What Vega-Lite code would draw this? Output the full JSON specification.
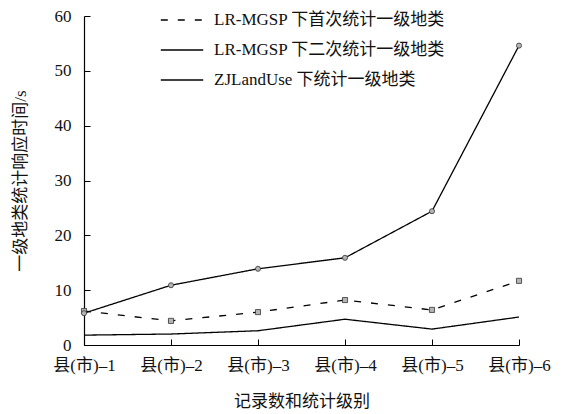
{
  "$schema": "https://vega.github.io/schema/vega-lite/v6.json",
  "width": 435,
  "height": 329,
  "autosize": {"type": "none"},
  "padding": {"left": 84, "top": 16, "right": 53, "bottom": 69},
  "background": "#ffffff",
  "config": {
    "view": {"stroke": null},
    "font": "Liberation Serif, Noto Sans CJK SC",
    "axis": {
      "grid": false,
      "domainColor": "#000000",
      "domainWidth": 1.2,
      "tickColor": "#000000",
      "labelColor": "#111111",
      "titleColor": "#111111",
      "labelFontSize": 17,
      "titleFontSize": 17,
      "titleFontWeight": "normal"
    }
  },
  "data": {
    "values": [
      {"c": "县(市)–1", "s": "LR-MGSP 下首次统计一级地类", "v": 6.2},
      {"c": "县(市)–2", "s": "LR-MGSP 下首次统计一级地类", "v": 4.4},
      {"c": "县(市)–3", "s": "LR-MGSP 下首次统计一级地类", "v": 6.0},
      {"c": "县(市)–4", "s": "LR-MGSP 下首次统计一级地类", "v": 8.2},
      {"c": "县(市)–5", "s": "LR-MGSP 下首次统计一级地类", "v": 6.4},
      {"c": "县(市)–6", "s": "LR-MGSP 下首次统计一级地类", "v": 11.7},
      {"c": "县(市)–1", "s": "LR-MGSP 下二次统计一级地类", "v": 1.8},
      {"c": "县(市)–2", "s": "LR-MGSP 下二次统计一级地类", "v": 2.0},
      {"c": "县(市)–3", "s": "LR-MGSP 下二次统计一级地类", "v": 2.6},
      {"c": "县(市)–4", "s": "LR-MGSP 下二次统计一级地类", "v": 4.7},
      {"c": "县(市)–5", "s": "LR-MGSP 下二次统计一级地类", "v": 2.9},
      {"c": "县(市)–6", "s": "LR-MGSP 下二次统计一级地类", "v": 5.1},
      {"c": "县(市)–1", "s": "ZJLandUse 下统计一级地类", "v": 5.8},
      {"c": "县(市)–2", "s": "ZJLandUse 下统计一级地类", "v": 10.9},
      {"c": "县(市)–3", "s": "ZJLandUse 下统计一级地类", "v": 13.9},
      {"c": "县(市)–4", "s": "ZJLandUse 下统计一级地类", "v": 15.9},
      {"c": "县(市)–5", "s": "ZJLandUse 下统计一级地类", "v": 24.4},
      {"c": "县(市)–6", "s": "ZJLandUse 下统计一级地类", "v": 54.6}
    ]
  },
  "encoding": {
    "x": {
      "field": "c",
      "type": "ordinal",
      "sort": null,
      "scale": {"type": "point", "padding": 0},
      "axis": {
        "title": "记录数和统计级别",
        "labelAngle": 0,
        "labelDx": 4,
        "tickSize": -6,
        "labelPadding": 18,
        "titlePadding": 20
      }
    },
    "y": {
      "field": "v",
      "type": "quantitative",
      "scale": {"domain": [0, 60], "nice": false},
      "axis": {
        "title": "一级地类统计响应时间/s",
        "values": [0, 10, 20, 30, 40, 50, 60],
        "tickSize": -6,
        "labelPadding": 19,
        "titlePadding": 25
      }
    }
  },
  "layer": [
    {
      "mark": {"type": "line", "color": "#000000", "strokeWidth": 1.3},
      "encoding": {
        "strokeDash": {
          "field": "s",
          "type": "nominal",
          "scale": {
            "domain": ["LR-MGSP 下首次统计一级地类", "LR-MGSP 下二次统计一级地类", "ZJLandUse 下统计一级地类"],
            "range": [[7, 10], [1, 0], [1, 0]]
          },
          "legend": {
            "title": null,
            "orient": "none",
            "legendX": 76,
            "legendY": -18,
            "symbolType": "stroke",
            "symbolSize": 1800,
            "symbolStrokeColor": "#000000",
            "symbolStrokeWidth": 1.3,
            "labelFontSize": 17,
            "labelLimit": 0,
            "labelColor": "#111111",
            "labelOffset": 10,
            "rowPadding": -14
          }
        }
      }
    },
    {
      "transform": [{"filter": "datum.s !== 'LR-MGSP 下二次统计一级地类'"}],
      "mark": {"type": "point", "filled": true, "fill": "#b4b4b4", "stroke": "#333333", "strokeWidth": 0.8, "size": 26, "opacity": 1},
      "encoding": {
        "shape": {
          "field": "s",
          "type": "nominal",
          "scale": {
            "domain": ["LR-MGSP 下首次统计一级地类", "ZJLandUse 下统计一级地类"],
            "range": ["square", "circle"]
          },
          "legend": null
        }
      }
    }
  ]
}
